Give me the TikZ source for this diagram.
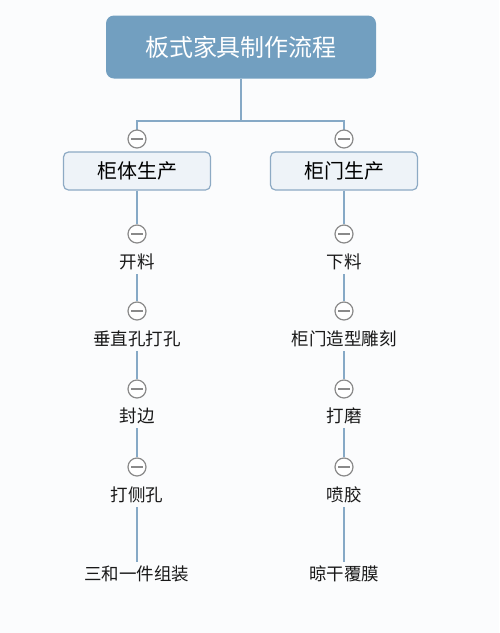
\documentclass[tikz,border=0pt]{standalone}
\usepackage{fontspec}
\newfontfamily\cjk{Noto Sans CJK SC}
\definecolor{rootblue}{HTML}{729FC0}
\definecolor{linkblue}{HTML}{86A9C6}
\definecolor{partfill}{HTML}{EEF3F8}
\definecolor{partline}{HTML}{8DAAC4}
\definecolor{foldgray}{HTML}{8A8A8A}
\definecolor{paper}{HTML}{FBFCFD}

\begin{document}
\begin{tikzpicture}[x=1pt,y=-1pt,
  rootbox/.style={fill=rootblue,rounded corners=8pt,minimum width=270pt,minimum height=63pt,
    text=white,font=\cjk\fontsize{24}{24}\selectfont},
  partbox/.style={draw=partline,line width=1.2pt,fill=partfill,rounded corners=5pt,
    minimum width=147pt,minimum height=38pt,font=\cjk\fontsize{20}{20}\selectfont},
  task/.style={inner sep=4pt,text=black!90,font=\cjk\fontsize{17.5}{17.5}\selectfont},
  fold/.style={circle,draw=foldgray,line width=1.2pt,fill=white,minimum size=18pt,inner sep=0pt,
    path picture={\draw[foldgray,line width=1.2pt] ([xshift=-6pt]path picture bounding box.center) -- ([xshift=6pt]path picture bounding box.center);}},
  link/.style={linkblue,line width=1.8pt}]
  \fill[paper] (0,0) rectangle (499,633);
  \useasboundingbox (0,0) rectangle (499,633);
  % top and the two branches
  \node[rootbox] (root) at (241,47) {板式家具制作流程};
  \coordinate (hub) at (241,121);
  \node[partbox] (body) at (137,171) {柜体生产};
  \node[partbox] (door) at (344,171) {柜门生产};
  \draw[link] (root) -- (hub) -| (137,139);
  \draw[link] (hub) -| (344,139);
  \node[fold] (body0) at (137,139) {};
  \node[fold] (door0) at (344,139) {};
  % steps
  \foreach \s/\y/\l/\r in {1/262/开料/下料,2/339/垂直孔打孔/柜门造型雕刻,3/416/封边/打磨,
      4/495/打侧孔/喷胶,5/574/三和一件组装/晾干覆膜}
    {\node[task] (bs\s) at (137,\y) {\l}; \node[task] (ds\s) at (344,\y) {\r};}
  \foreach \s/\y in {1/234,2/311,3/389,4/467}
    {\node[fold] (bf\s) at (137,\y) {}; \node[fold] (df\s) at (344,\y) {};}
  \draw[link] (body) -- (bf1); \draw[link] (door) -- (df1);
  \foreach \s/\t in {1/2,2/3,3/4}
    {\draw[link] (bs\s) -- (bf\t); \draw[link] (ds\s) -- (df\t);}
  \draw[link] (bs4) -- (bs5); \draw[link] (ds4) -- (ds5);
\end{tikzpicture}
\end{document}
